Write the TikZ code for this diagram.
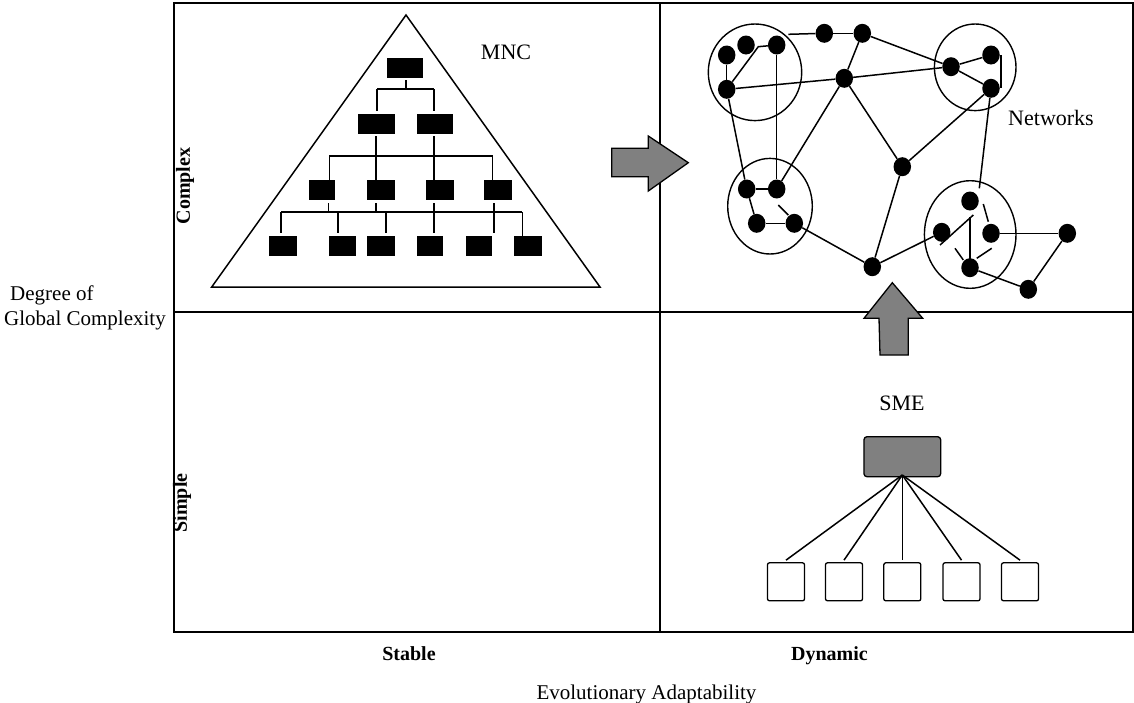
\documentclass[tikz,border=0pt]{standalone}
\usepackage{fontspec}
\setmainfont{Liberation Serif}
\usetikzlibrary{shapes.geometric}
\definecolor{arrowgray}{HTML}{808080}
\tikzset{
  frameline/.style={line width=1.8pt},
  conn/.style={line width=1.5pt},
  blk/.style={draw=black, fill=black, minimum width=#1, minimum height=18.5pt, inner sep=0pt, line width=0.5pt},
  netdot/.style={ellipse, fill=black, minimum width=17.5pt, minimum height=19pt, inner sep=0pt},
  grp/.style={ellipse, draw, line width=1.4pt, inner sep=0pt},
  sbox/.style={draw, rounded corners=2pt, minimum width=37pt, minimum height=38pt, inner sep=0pt, line width=1.3pt},
  axlbl/.style={font=\fontsize{21}{25}\selectfont, inner sep=0pt},
  boldlbl/.style={font=\fontsize{20}{24}\selectfont\bfseries, inner sep=0pt},
  inlbl/.style={font=\fontsize{22}{26}\selectfont, inner sep=0pt},
  bigarrow/.style={draw=black, fill=arrowgray, line width=1.3pt, line join=miter},
}
\begin{document}
\begin{tikzpicture}[x=1pt,y=-1pt]
\useasboundingbox (0,0) rectangle (1134,702);

% frame
\draw[frameline] (174,3) rectangle (1133,632);
\draw[frameline] (660,3) -- (660,632);
\draw[frameline] (174,312) -- (1133,312);

% axis labels
\node[boldlbl, rotate=90] (complex) at (185,186) {Complex};
\node[boldlbl, rotate=90] (simple) at (182,503) {Simple};
\node[axlbl, anchor=base west] (deg) at (10,300) {Degree of};
\node[axlbl, anchor=base west] (glob) at (4,325) {Global Complexity};
\node[boldlbl, anchor=base] (stable) at (409,660) {Stable};
\node[boldlbl, anchor=base] (dynamic) at (829.5,660) {Dynamic};
\node[axlbl, anchor=base] (evo) at (646.5,699) {Evolutionary Adaptability};

% ---------------- MNC pyramid ----------------
\draw[line width=1.5pt, line join=miter] (406,15) -- (600,287) -- (211.7,287) -- cycle;
\node[inlbl, anchor=base] (mnc) at (506,59) {MNC};

\node[blk=35pt] (t1) at (405,67.5) {};
\node[blk=36pt] (s1) at (376,123.5) {};
\node[blk=35pt] (s2) at (435,123.5) {};
\node[blk=25pt, minimum height=19pt] (r1) at (322,189.5) {};
\node[blk=27pt, minimum height=19pt] (r2) at (381,189.5) {};
\node[blk=27pt, minimum height=19pt] (r3) at (439.3,189.5) {};
\node[blk=27pt, minimum height=19pt] (r4) at (497.3,189.5) {};
\node[blk=27pt, minimum height=19pt] (q1) at (283,245.5) {};
\node[blk=26pt, minimum height=19pt] (q2) at (342,245.5) {};
\node[blk=27pt, minimum height=19pt] (q3) at (381,245.5) {};
\node[blk=25pt, minimum height=19pt] (q4) at (430,245.5) {};
\node[blk=25pt, minimum height=19pt] (q5) at (478.3,245.5) {};
\node[blk=27pt, minimum height=19pt] (q6) at (527.3,245.5) {};

\coordinate (b1L) at (377,89);
\coordinate (b1R) at (434,89);
\coordinate (b1M) at (406,89);
\coordinate (b2L) at (329.3,156);
\coordinate (b2R) at (492.7,156);
\coordinate (b3L) at (281,212);
\coordinate (b3R) at (522.3,212);

\draw[conn, shorten <=3pt] (t1.south -| b1M) -- (b1M);
\draw[conn] (b1L) -- (b1R);
\draw[conn, shorten >=3pt] (b1L) -- (b1L |- s1.north);
\draw[conn, shorten >=3pt] (b1R) -- (b1R |- s2.north);

\draw[conn] (b2L) -- (b2R);
\draw[conn, shorten <=3pt] (s1.south) -- (s1.south |- r2.north);
\draw[conn, shorten <=3pt] (b1R |- s2.south) -- (b1R |- r3.north);
\draw[conn] (b2L) -- (b2L |- r1.north);
\draw[conn] (b2R) -- (b2R |- r4.north);

\draw[conn] (b3L) -- (b3R);
\draw[conn, shorten <=4pt] ([xshift=-1pt]b2L |- r1.south) -- ([xshift=-1pt]b2L |- b3L);
\draw[conn, shorten <=4pt] (s1.south |- r2.south) -- (s1.south |- b3L);
\draw[conn, shorten <=4pt, shorten >=3pt] (b1R |- r3.south) -- (b1R |- q4.north);
\draw[conn, shorten <=4pt, shorten >=3pt] ([xshift=1.3pt]b2R |- r4.south) -- ([xshift=1.3pt]b2R |- q5.north);
\draw[conn, shorten >=3pt] (b3L) -- (b3L |- q1.north);
\draw[conn, shorten >=3pt] (338,212) -- (338,236);
\draw[conn, shorten >=3pt] (386,212) -- (386,236);
\draw[conn] (b3R) -- (b3R |- q6.north);

% arrow right
\draw[bigarrow] (611.7,148.3) -- (648.3,148.3) -- (648.3,136) -- (688.3,162.7)
  -- (648.3,191) -- (648.3,176.7) -- (611.7,176.7) -- cycle;

% arrow up
\draw[bigarrow] (880,355) -- (879,318.3) -- (864,318.3) -- (892.3,282.7)
  -- (922.7,318.3) -- (908.3,318.3) -- (908.3,355) -- cycle;

% ---------------- SME ----------------
\node[inlbl, anchor=base] (smel) at (902,410) {SME};
\node[draw, fill=arrowgray, rounded corners=3pt, line width=1.3pt, minimum width=76.7pt, minimum height=40pt, inner sep=0pt] (sme) at (902.3,456.7) {};
\node[sbox] (k1) at (786,581.8) {};
\node[sbox] (k2) at (844,581.8) {};
\node[sbox] (k3) at (902.3,581.8) {};
\node[sbox] (k4) at (961.5,581.8) {};
\node[sbox] (k5) at (1020,581.8) {};
\coordinate (smeroot) at (902.3,475);
\foreach \k in {k1,k2,k3,k4,k5} \draw[conn] (smeroot) -- ([yshift=2pt]\k.north);

% ---------------- Networks ----------------
\node[inlbl, anchor=base] (netl) at (1051,125) {Networks};

\node[grp, minimum width=93.4pt, minimum height=96.6pt] (C1) at (755,72.3) {};
\node[grp, minimum width=81.6pt, minimum height=86.6pt] (C2) at (975.2,67.3) {};
\node[grp, minimum width=84.6pt, minimum height=95.6pt] (C3) at (770,206.2) {};
\node[grp, minimum width=91.6pt, minimum height=107.6pt] (C4) at (970.2,234.5) {};

\node[netdot] (a) at (726.7,55) {};
\node[netdot] (b) at (746,45) {};
\node[netdot] (c) at (776.7,45) {};
\node[netdot] (d) at (726.7,89.3) {};
\node[netdot] (e) at (824.3,33.3) {};
\node[netdot] (f) at (862.3,33.3) {};
\node[netdot] (g) at (844.3,78.3) {};
\node[netdot] (h) at (951,66.7) {};
\node[netdot] (i) at (991,55) {};
\node[netdot] (j) at (991,88.3) {};
\node[netdot] (k) at (902.3,166.7) {};
\node[netdot] (l) at (746.7,189) {};
\node[netdot] (m) at (776.7,189) {};
\node[netdot] (n) at (756.7,223.3) {};
\node[netdot] (o) at (794.3,223.3) {};
\node[netdot] (p) at (872.3,266.7) {};
\node[netdot] (q) at (970,201) {};
\node[netdot] (r) at (941.7,232.3) {};
\node[netdot] (s) at (991,233.3) {};
\node[netdot] (t) at (970,267.7) {};
\node[netdot] (u) at (1067.3,233.3) {};
\node[netdot] (v) at (1028.3,289.3) {};

\coordinate (dc) at (758.3,46.7);
\coordinate (c1e) at (788.3,34.3);
\coordinate (jq) at (979.3,188.3);
\coordinate (mo1) at (778.3,205);
\coordinate (mo2) at (788.3,215);
\coordinate (rq1) at (940,245);
\coordinate (rq2) at (973.3,215);
\coordinate (qt1) at (970,216.7);
\coordinate (qt2) at (970,260);
\coordinate (qs1) at (983.3,204);
\coordinate (qs2) at (988.3,221.7);
\coordinate (tl1) at (955,248.3);
\coordinate (tl2) at (963.3,260);
\coordinate (ts1) at (976.7,258.3);
\coordinate (ts2) at (991.7,248.3);

\draw[conn] (a) -- (d);
\draw[conn] (d) -- (dc) -- (c);
\draw[conn] (c) -- (m);
\draw[conn] (d) -- (g);
\draw[conn] (g) -- (h);
\draw[conn] (c1e) -- (e);
\draw[conn] (e) -- (f);
\draw[conn] (f) -- (g);
\draw[conn] (f) -- (h);
\draw[conn] (g) -- (m);
\draw[conn] (g) -- (k);
\draw[conn] (k) -- (j);
\draw[conn] (k) -- (p);
\draw[conn] (h) -- (i);
\draw[conn] (h) -- (j);
\draw[conn] ([xshift=1pt]i.east) -- ([xshift=1pt]j.east);
\draw[conn] (j) -- (jq);
\draw[conn] (l) -- (m);
\draw[conn] (d) -- (l);
\draw[conn] (l) -- (n);
\draw[conn] (n) -- (o);
\draw[conn] (mo1) -- (mo2);
\draw[conn] (o) -- (p);
\draw[conn] (p) -- (r);
\draw[conn] (rq1) -- (rq2);
\draw[conn] (qt1) -- (qt2);
\draw[conn] (qs1) -- (qs2);
\draw[conn] (tl1) -- (tl2);
\draw[conn] (ts1) -- (ts2);
\draw[conn] (s) -- (u);
\draw[conn] (u) -- (v);
\draw[conn] (t) -- (v);
\end{tikzpicture}
\end{document}
